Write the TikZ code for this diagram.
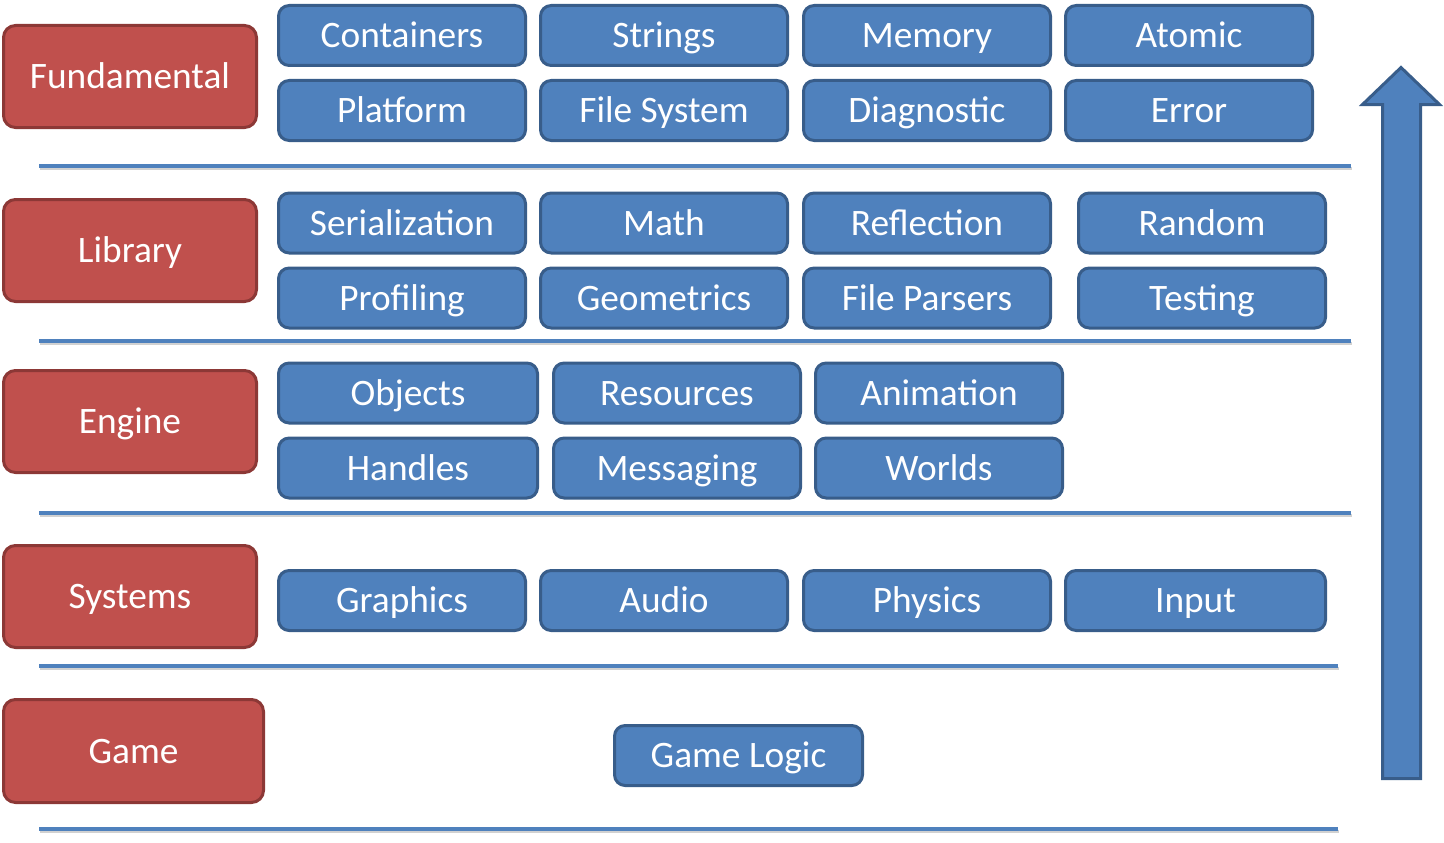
\documentclass[tikz,border=0pt]{standalone}
\usepackage{fontspec}
\setmainfont{Carlito}
\begin{document}
\begin{tikzpicture}[x=0.75pt,y=-0.75pt,
  boxtext/.style={text=white, font=\fontsize{28}{33}\selectfont,
    text height=18pt, text depth=0pt, inner sep=0pt},
  layer/.style={rectangle, rounded corners=9pt, draw=layerborder, fill=layerfill,
    line width=2.25pt, boxtext,
    minimum width=253*0.75pt, minimum height=102*0.75pt},
  module/.style={rectangle, rounded corners=8pt, draw=modborder, fill=modfill,
    line width=2.25pt, boxtext,
    minimum width=247*0.75pt, minimum height=60*0.75pt},
  sep/.style={draw=modfill, line width=2.4pt},
  sepshadow/.style={draw=black!18, line width=2.4pt}]
\definecolor{layerfill}{HTML}{C0504D}
\definecolor{layerborder}{HTML}{8C3836}
\definecolor{modfill}{HTML}{4F81BD}
\definecolor{modborder}{HTML}{385D8A}
\useasboundingbox (0,0) rectangle (1444,842);

% layer separators with a soft drop shadow
\foreach \y/\xe in {166/1351, 341/1351, 513/1351, 666/1338, 829/1338} {
  \draw[sepshadow] (40,\y+2.5) -- (\xe+1,\y+2.5);
  \draw[sep] (39,\y) -- (\xe,\y);
}

% layer labels
\node[layer] (fund) at (130,76.5) {Fundamental};
\node[layer] (lib) at (130,250.5) {Library};
\node[layer] (eng) at (130,421.5) {Engine};
\node[layer] (sys) at (130,596.5) {Systems};
\node[layer, minimum width=260*0.75pt, minimum height=103*0.75pt] (game) at (133.5,751) {Game};

% fundamental modules
\node[module] (containers) at (402,35.5) {Containers};
\node[module] (strings) at (664,35.5) {Strings};
\node[module] (memory) at (927,35.5) {Memory};
\node[module] (atomic) at (1189,35.5) {Atomic};
\node[module] (platform) at (402,110.5) {Platform};
\node[module] (filesystem) at (664,110.5) {File System};
\node[module] (diagnostic) at (927,110.5) {Diagnostic};
\node[module] (error) at (1189,110.5) {Error};

% library modules
\node[module] (serialization) at (402,223) {Serialization};
\node[module] (math) at (664,223) {Math};
\node[module] (reflection) at (927,223) {Reflection};
\node[module] (random) at (1202,223) {Random};
\node[module] (profiling) at (402,298) {Profiling};
\node[module] (geometrics) at (664,298) {Geometrics};
\node[module] (fileparsers) at (927,298) {File Parsers};
\node[module] (testing) at (1202,298) {Testing};

% engine modules
\node[module, minimum width=259*0.75pt] (objects) at (408,393) {Objects};
\node[module] (resources) at (677,393) {Resources};
\node[module] (animation) at (939,393) {Animation};
\node[module, minimum width=259*0.75pt] (handles) at (408,468) {Handles};
\node[module] (messaging) at (677,468) {Messaging};
\node[module] (worlds) at (939,468) {Worlds};

% systems modules
\node[module] (graphics) at (402,600.5) {Graphics};
\node[module] (audio) at (664,600.5) {Audio};
\node[module] (physics) at (927,600.5) {Physics};
\node[module, minimum width=260*0.75pt] (input) at (1195.5,600.5) {Input};

% game modules
\node[module, minimum width=248*0.75pt] (gamelogic) at (738.5,755.5) {Game Logic};

% upward dependency arrow
\draw[draw=modborder, fill=modfill, line width=2.25pt, line join=miter]
  (1382.5,778.5) -- (1382.5,104.5) -- (1362.5,104.5) -- (1401,67.5)
  -- (1439.5,104.5) -- (1420.5,104.5) -- (1420.5,778.5) -- cycle;
\end{tikzpicture}
\end{document}
